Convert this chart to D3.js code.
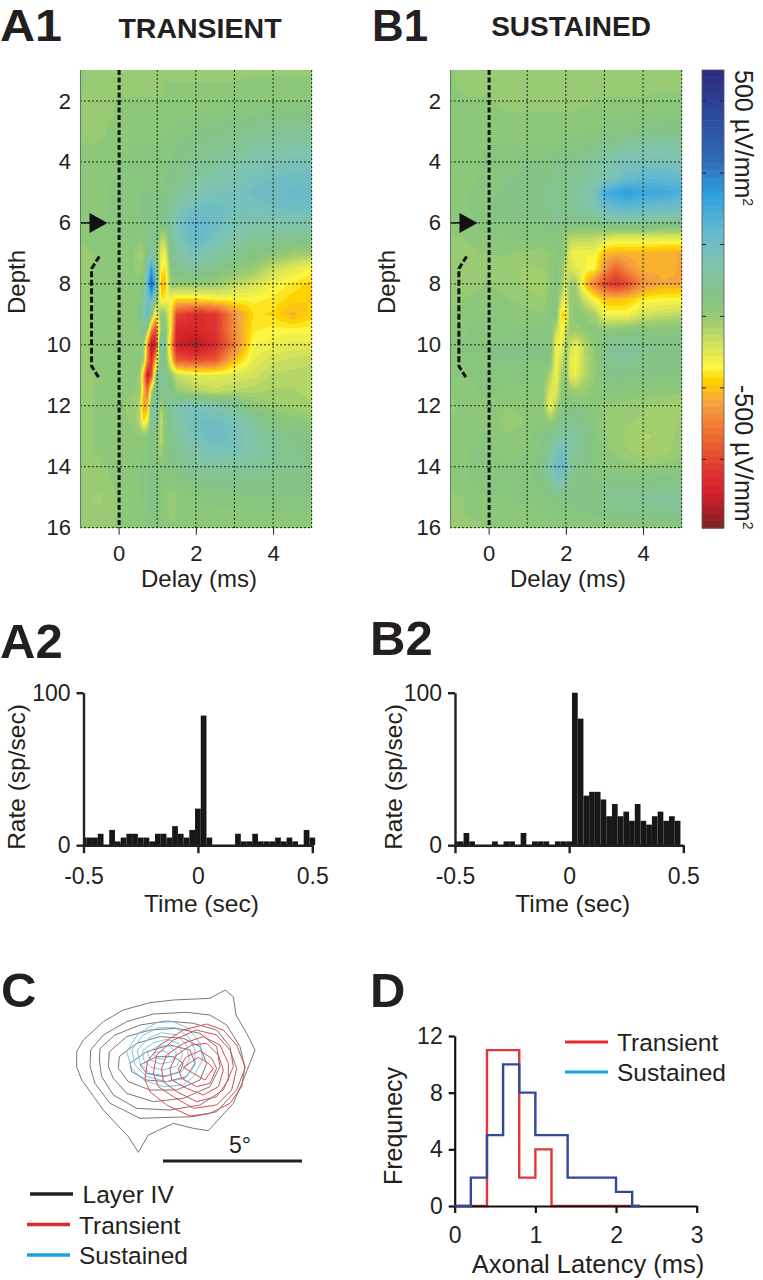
<!DOCTYPE html>
<html><head><meta charset="utf-8">
<script src="https://cdnjs.cloudflare.com/ajax/libs/d3/7.8.5/d3.min.js"></script>
<style>html,body{margin:0;background:#fff}svg{display:block}text{font-family:"Liberation Sans",Arial,sans-serif;fill:#231f20}</style>
</head><body><div id="chart"></div>
<script>
// ---------- data ----------
const depthRows = d3.range(1, 16.5, 0.5);
const delayA = [-1,-.5,0,.4,.55,.65,.75,.85,.95,1.1,1.2,1.35,1.5,2,2.5,3,3.5,4,4.5,5];
const delayB = [-1,-.5,0,.5,1,1.4,1.6,1.75,1.9,2,2.1,2.25,2.5,2.75,3,3.3,3.6,4,4.5,5];
const csdA = [
[-6,-7,-7,-7,-7,-7,-7,-7,-7,-7,-7,-7,-7,-7,-7,-7,-7,-7,-7,-7],
[-6,-7,-7,-7,-7,-7,-7,-7,-7,-7,-6,-6,-6,-6,-6,-6,-5,-5,-5,-5],
[-7,-7,-6,-6,-6,-6,-6,-6,-6,-6,-6,-6,-6,-5,-5,-4,-4,-4,-3,-3],
[-7,-7,-6,-5,-5,-5,-5,-5,-5,-5,-5,-4,-4,-3,-2,-1,0,1,2,2],
[-7,-7,-5,-4,-4,-4,-4,-4,-4,-4,-3,-3,-2,0,2,4,6,7,7,7],
[-6,-6,-4,-3,-3,-3,-3,-3,-3,-3,-2,-1,0,3,5,7,10,12,12,12],
[-6,-5,-3,-2,-2,-2,-2,-2,-2,-2,-1,0,2,6,9,12,15,17,18,18],
[-5,-4,-3,-2,-1,-1,-1,-1,-1,-1,0,2,4,9,13,16,20,22,23,23],
[-5,-4,-2,-1,0,0,0,0,0,0,1,3,7,14,18,19,23,25,26,26],
[-5,-4,-2,-1,0,1,1,1,1,1,3,7,13,22,24,20,20,22,23,23],
[-5,-4,-2,-1,0,0,1,2,3,3,5,10,18,30,25,18,16,15,15,15],
[-6,-5,-3,-3,-4,-3,0,5,6,-14,-14,6,15,28,20,12,8,7,6,5],
[-7,-6,-5,-6,-12,-8,0,10,4,-24,-26,2,10,20,12,5,1,-3,-8,-10],
[-7,-6,-5,-6,-8,-4,18,45,18,-30,-34,-4,4,8,3,-3,-8,-18,-24,-29],
[-7,-6,-5,-5,-4,2,32,68,38,-40,-42,-6,-6,-6,-8,-15,-20,-28,-32,-36],
[-7,-6,-5,-4,0,8,20,30,6,-34,-30,-28,-34,-34,-30,-30,-30,-32,-36,-38],
[-7,-6,-5,-4,2,15,30,0,-32,-4,-8,-28,-70,-78,-76,-50,-34,-35,-42,-36],
[-7,-6,-5,-4,-2,5,-8,-50,-70,-5,0,-30,-80,-82,-76,-50,-32,-30,-30,-30],
[-7,-6,-5,-4,-4,-8,-50,-92,-85,25,0,-40,-85,-92,-80,-55,-28,-26,-24,-24],
[-7,-6,-5,-4,-4,-8,-55,-80,-45,8,2,-30,-65,-68,-65,-40,-25,-20,-18,-16],
[-7,-6,-5,-5,-8,-45,-90,-70,-10,8,4,-5,-18,-24,-24,-22,-20,-15,-14,-14],
[-7,-6,-5,-6,-8,-40,-60,-15,5,5,5,5,-8,-14,-18,-15,-14,-12,-12,-14],
[-7,-6,-5,-8,-15,-48,-40,5,22,-12,0,10,15,18,14,8,-4,-8,-10,-12],
[-7,-6,-5,-7,-15,-35,-25,5,10,-18,-4,6,12,22,24,18,8,0,-4,-6],
[-7,-6,-5,-5,-6,-5,-2,2,2,-15,-3,2,8,20,25,20,12,6,2,0],
[-7,-6,-4,-4,-4,-3,-1,1,1,-12,-2,1,5,14,20,18,12,8,4,2],
[-7,-7,-5,-4,-3,-2,0,1,1,-3,0,1,3,8,10,10,8,6,4,3],
[-8,-8,-5,-4,-3,-2,0,1,1,-2,-3,-3,-2,2,3,3,3,2,2,2],
[-8,-10,-6,-5,-3,-2,0,2,1,-2,-6,-8,-6,-3,-1,-1,0,0,0,0],
[-7,-9,-6,-5,-4,-3,-1,1,0,-2,-5,-7,-6,-5,-4,-4,-3,-3,-3,-3],
[-6,-7,-6,-5,-5,-4,-3,-2,-3,-4,-5,-6,-6,-6,-5,-5,-5,-5,-5,-5]];
const csdB = [
[-6,-7,-7,-8,-8,-8,-8,-8,-8,-8,-8,-8,-8,-8,-8,-8,-8,-8,-8,-8],
[-6,-7,-7,-8,-8,-8,-8,-8,-8,-8,-8,-8,-8,-7,-7,-7,-7,-7,-7,-7],
[-5,-6,-6,-7,-7,-7,-7,-7,-7,-7,-7,-7,-7,-6,-6,-6,-6,-6,-5,-5],
[-5,-6,-5,-6,-6,-6,-6,-6,-6,-6,-6,-6,-5,-5,-4,-4,-3,-2,-2,-1],
[-5,-5,-4,-5,-5,-5,-5,-5,-5,-5,-4,-4,-3,-3,-2,-1,0,2,3,3],
[-5,-5,-3,-3,-3,-3,-2,-2,-2,-2,-1,-1,0,3,5,7,10,12,12,12],
[-5,-4,-2,-1,0,1,2,3,3,3,4,5,8,11,13,17,18,18,18,16],
[-5,-4,-2,0,1,2,3,4,5,5,6,7,8,10,14,18,25,30,30,28],
[-5,-3,-1,1,2,3,4,5,6,6,7,9,13,18,38,42,46,42,40,36],
[-4,-3,0,1,2,3,4,5,5,5,6,8,12,16,24,28,30,28,26,22],
[-5,-4,-1,0,0,1,2,3,3,3,3,3,2,2,6,8,8,8,6,5],
[-7,-6,-4,-3,-3,-2,-2,-2,-4,-10,-14,-16,-16,-16,-20,-24,-24,-24,-24,-24],
[-8,-7,-6,-6,-7,-8,-6,-3,-3,-10,-24,-28,-28,-28,-40,-42,-42,-42,-43,-44],
[-9,-9,-8,-8,-10,-9,-5,-2,-5,-20,-20,-24,-28,-30,-48,-62,-50,-42,-43,-44],
[-8,-7,-6,-8,-10,-12,-6,0,-8,-24,-10,-10,-38,-56,-70,-76,-70,-50,-44,-44],
[-7,-6,-5,-6,-8,-9,-4,0,-20,-26,-7,-6,-20,-30,-38,-40,-38,-32,-30,-30],
[-6,-4,-3,-4,-5,-6,-2,0,-36,-34,-10,-4,-6,-12,-28,-28,-28,-20,-18,-16],
[-5,-3,-2,-2,-3,-3,-1,-16,-30,-20,-8,-8,-5,-4,-5,-5,-3,-2,-2,-1],
[-5,-2,0,0,0,0,0,-28,-26,-8,-18,-26,-14,-5,4,8,8,5,3,2],
[-5,-2,0,0,0,0,-2,-28,-18,-6,-24,-28,-15,-6,3,7,7,3,2,1],
[-5,-3,-1,-1,-2,-2,-14,-28,-10,-4,-22,-26,-14,-6,0,2,2,0,0,0],
[-6,-4,-2,-4,-4,-4,-22,-24,-5,-3,-8,-10,-8,-5,-3,-2,-3,-4,-4,-5],
[-7,-5,-4,-6,-5,-5,-28,-14,-2,0,0,0,-3,-5,-7,-7,-8,-9,-10,-12],
[-6,-5,-4,-8,-6,-3,-8,-2,3,4,5,5,1,-3,-6,-8,-9,-10,-11,-9],
[-6,-4,-3,-6,-4,0,4,8,10,12,12,10,4,-2,-6,-8,-10,-13,-12,-8],
[-5,-3,-2,-5,-3,1,8,18,22,16,12,8,3,-2,-5,-7,-9,-12,-11,-7],
[-4,-3,-1,-3,-1,3,14,26,28,20,12,6,2,-1,-3,-4,-5,-6,-5,-3],
[-5,-3,-1,-3,-1,1,6,14,14,8,5,2,0,0,1,2,2,2,3,3],
[-7,-6,-3,-3,-2,-1,0,1,2,1,1,1,1,3,5,6,6,7,8,8],
[-7,-6,-5,-4,-4,-3,-2,-2,-2,-2,-1,0,0,1,2,3,3,4,5,5],
[-7,-7,-6,-6,-6,-6,-5,-5,-5,-5,-5,-5,-5,-4,-4,-4,-4,-4,-4,-4]];
const colorStops = [100,80,60,45,30,15,0,-5,-10,-20,-30,-36,-45,-60,-75,-85,-100];
const colorHex = ["#2b2a7e","#2d4a9c","#2f6db8","#2fa2de","#62b8d2","#7fc4ae","#85c380","#8ec87a","#9fcd70","#d3e25c","#fdf640","#ffd200","#f6a33e","#ee6b30","#e03430","#d42028","#7b2226"];
const colorbarTicks = [86.5,55,23.8,-7.6,-38.8,-70];
const rateA = [5,5,5,7.5,0,10,2.5,5,7.5,7.5,5,5,2.5,7.5,7.5,5,12.5,7.5,5,10,24,85,5,0,0,0,0,7.5,2.5,2.5,7.5,2.5,2.5,2.5,5,2.5,5,2.5,0,10,5];
const rateB = [2.5,2.5,8,2.5,0,0,0,2.5,0,2.5,2.5,0,8,0,2.5,2.5,2.5,0,2.5,2.5,2.5,100,83,32.5,35,35,30,19,27,19,22,16,27,16,13.5,19,22,16,19,16];
const latencyEdges = [0,.2,.4,.6,.8,1,1.2,1.4,1.6,1.8,2,2.2,2.3];
const freqTransient = [0,0,11,11,2,4,0,0,0,0,0,0,0];
const freqSustained = [0,2,5,10,8,5,5,2,2,2,1,0,0];
// receptive-field contours in map units (1 unit = 1/3 px)
const fieldBlack = [
[[50,215],[70,180],[130,125],[190,90],[270,68],[340,60],[450,55],[495,30],[520,50],[528,105],[560,160],[585,210],[550,300],[520,370],[445,452],[400,445],[340,430],[265,465],[235,517],[205,470],[130,390],[65,300],[50,260],[50,215]],
[[92,210],[130,165],[200,125],[280,102],[380,97],[450,105],[500,135],[540,200],[555,265],[530,330],[470,395],[400,410],[240,415],[150,370],[105,310],[90,260],[92,210]],
[[120,205],[165,165],[240,135],[320,123],[400,130],[470,150],[510,200],[520,260],[490,330],[420,375],[330,390],[230,385],[160,345],[125,290],[118,240],[120,205]],
[[148,215],[200,170],[270,150],[350,145],[420,160],[470,200],[480,260],[450,320],[370,355],[280,365],[200,340],[160,295],[145,260],[148,215]],
[[178,230],[230,190],[300,170],[370,175],[420,200],[440,250],[420,300],[350,330],[270,330],[205,305],[175,265],[178,230]],
[[210,250],[260,215],[330,195],[390,210],[405,250],[380,290],[320,305],[260,300],[215,275],[210,250]],
[[240,255],[290,230],[340,230],[370,250],[360,275],[310,290],[260,280],[240,255]]];
const fieldBlue = [
[[200,215],[235,160],[290,128],[340,125],[385,145],[420,190],[428,240],[400,290],[370,315],[310,320],[250,300],[215,265],[200,215]],
[[215,210],[250,165],[295,143],[345,143],[385,170],[405,210],[405,255],[375,295],[320,305],[260,290],[225,255],[215,210]],
[[232,210],[265,175],[305,158],[350,165],[380,195],[388,240],[365,275],[320,288],[270,280],[240,250],[232,210]],
[[248,212],[280,188],[320,178],[355,190],[368,225],[350,258],[310,270],[272,262],[250,238],[248,212]],
[[262,218],[295,198],[330,198],[350,220],[335,245],[300,252],[272,240],[262,218]],
[[280,220],[310,212],[330,222],[315,238],[290,235],[280,220]]];
const fieldRed = [
[[255,300],[262,245],[300,195],[370,150],[440,132],[490,150],[530,195],[555,260],[545,320],[510,370],[450,400],[390,408],[320,375],[270,335],[255,300]],
[[280,280],[290,225],[340,180],[410,150],[470,165],[510,210],[530,265],[515,330],[470,375],[400,385],[340,350],[295,320],[280,280]],
[[305,265],[320,225],[370,190],[430,170],[480,195],[505,250],[505,300],[470,350],[410,365],[350,335],[310,305],[305,265]],
[[330,265],[350,225],[395,195],[440,190],[475,225],[490,270],[475,320],[430,345],[380,325],[335,300],[330,265]],
[[355,265],[380,230],[420,212],[455,235],[470,265],[450,310],[410,320],[365,295],[355,265]],
[[370,262],[415,232],[445,250],[460,265],[435,300],[400,280],[370,262]]];
const bracketDelayA = [-.5,-.7,-.7,-.5];
const bracketDelayB = [-.57,-.77,-.77,-.57];
const bracketDepth = [7.1,7.5,10.7,11.1];

// ---------- setup ----------
const W = 763, H = 1280, INK = "#231f20";
const svg = d3.select("#chart").append("svg").attr("width", W).attr("height", H).attr("viewBox", `0 0 ${W} ${H}`);
const color = d3.scaleLinear().domain(colorStops).range(colorHex).interpolate(d3.interpolateRgb);
const LEVELS = 64, stepV = 200 / LEVELS;
const band = v => { const k = Math.min(LEVELS - 1, Math.max(0, Math.floor((v + 100) / stepV))); return -100 + (k + .5) * stepV; };

function label(x, y, t, o = {}) {
  const e = svg.append("text").attr("x", x).attr("y", y).text(t)
    .attr("font-size", o.size || 24).attr("text-anchor", o.anchor || "middle");
  if (o.bold) e.attr("font-weight", "bold");
  if (o.rot) e.attr("transform", `rotate(${o.rot} ${x} ${y})`);
  if (o.len) e.attr("textLength", o.len).attr("lengthAdjust", "spacingAndGlyphs");
  return e;
}

function heatmap(left, delays, grid, bracketDelay, titleX) {
  const x = d3.scaleLinear([-1, 5], [left, left + 231.7]);
  const y = d3.scaleLinear([1, 16], [70.5, 527.7]);
  const x0 = left, y0 = 70, w = 232, h = 458;
  const cv = document.createElement("canvas"); cv.width = w; cv.height = h;
  const ctx = cv.getContext("2d"), img = ctx.createImageData(w, h);
  for (let py = 0; py < h; py++) {
    const dp = Math.max(1, Math.min(16, y.invert(y0 + py + .5)));
    const r = Math.min(depthRows.length - 2, d3.bisectRight(depthRows, dp) - 1);
    const fy = (dp - depthRows[r]) / (depthRows[r + 1] - depthRows[r]);
    for (let px = 0; px < w; px++) {
      const dl = Math.max(-1, Math.min(5, x.invert(x0 + px + .5)));
      const c = Math.min(delays.length - 2, d3.bisectRight(delays, dl) - 1);
      const fx = (dl - delays[c]) / (delays[c + 1] - delays[c]);
      const v = (grid[r][c] * (1 - fx) + grid[r][c + 1] * fx) * (1 - fy) + (grid[r + 1][c] * (1 - fx) + grid[r + 1][c + 1] * fx) * fy;
      const col = d3.rgb(color(band(v))), i = (py * w + px) * 4;
      img.data[i] = col.r; img.data[i + 1] = col.g; img.data[i + 2] = col.b; img.data[i + 3] = 255;
    }
  }
  ctx.putImageData(img, 0, 0);
  svg.append("image").attr("href", cv.toDataURL()).attr("x", x0).attr("y", y0).attr("width", w).attr("height", h);
  const gridG = svg.append("g").attr("fill", "none").attr("stroke", "#1a2a1a").attr("stroke-width", 1).attr("stroke-dasharray", "2 2");
  gridG.selectAll(".v").data([1, 2, 3, 4, 5]).join("line").attr("x1", d => x(d)).attr("x2", d => x(d)).attr("y1", y0).attr("y2", y0 + h);
  gridG.selectAll(".h").data([2, 4, 6, 8, 10, 12, 14, 16]).join("line").attr("x1", x0).attr("x2", x0 + w).attr("y1", d => y(d)).attr("y2", d => y(d));
  svg.append("line").attr("x1", x0 + .5).attr("x2", x0 + .5).attr("y1", y0).attr("y2", y0 + h).attr("stroke", "#5d7f5f");
  svg.append("line").attr("x1", x(0) + .5).attr("x2", x(0) + .5).attr("y1", y0).attr("y2", y0 + h).attr("stroke", "#111").attr("stroke-width", 3).attr("stroke-dasharray", "5 2.5");
  // bracket
  svg.append("path").attr("d", d3.line().x(d => x(d[0])).y(d => y(d[1]))(bracketDelay.map((d, i) => [d, bracketDepth[i]])))
    .attr("fill", "none").attr("stroke", "#111").attr("stroke-width", 3).attr("stroke-dasharray", "6 2.5");
  // arrow at depth 6
  const ay = y(6), ax = x(-1);
  svg.append("line").attr("x1", ax + 1).attr("x2", ax + 11).attr("y1", ay).attr("y2", ay).attr("stroke", "#111").attr("stroke-width", 1.5);
  svg.append("path").attr("d", d3.line()([[ax + 9.5, ay - 10], [ax + 27.5, ay], [ax + 9.5, ay + 10]]) + "Z").attr("fill", "#111");
  // axes
  const yAx = d3.axisLeft(y).tickValues(d3.range(2, 17, 2)).tickSize(0).tickPadding(9);
  const gy = svg.append("g").attr("transform", `translate(${left},0)`).call(yAx);
  gy.select(".domain").remove();
  gy.selectAll("text").attr("font-size", 22).style("fill", INK);
  const xAx = d3.axisBottom(x).tickValues([0, 2, 4]).tickSize(7).tickPadding(11).tickFormat(d3.format("d"));
  const gx = svg.append("g").attr("transform", "translate(0,527.7)").call(xAx);
  gx.select(".domain").remove();
  gx.selectAll("line").attr("stroke", INK);
  gx.selectAll("text").attr("font-size", 22).style("fill", INK);
  label(titleX, 587, "Delay (ms)");
  label(left - 55, 282, "Depth", { rot: -90 });
}

function histogram(axisX, endX, rate, titleLeft) {
  const x = d3.scaleLinear([-.5, .5], [axisX, endX]);
  const y = d3.scaleLinear([0, 100], [845.2, 692.7]);
  svg.append("g").attr("fill", "#171717").selectAll("rect").data(rate).join("rect")
    .attr("x", (d, i) => x(Math.max(-.5, -.5 + .025 * i - .0125)))
    .attr("width", (d, i) => x(-.5 + .025 * i + .0125) - x(Math.max(-.5, -.5 + .025 * i - .0125)))
    .attr("y", d => y(d)).attr("height", d => y(0) - y(d));
  const gx = svg.append("g").attr("transform", `translate(0,${y(0)})`)
    .call(d3.axisBottom(x).tickValues([-.5, 0, .5]).tickSize(8).tickPadding(14).tickSizeOuter(0).tickFormat(d => d === 0 ? "0" : String(d)));
  const gy = svg.append("g").attr("transform", `translate(${axisX},0)`)
    .call(d3.axisLeft(y).tickValues([0, 100]).tickSize(7).tickPadding(6).tickSizeOuter(0));
  [gx, gy].forEach(g => {
    g.selectAll(".domain,line").attr("stroke", INK).attr("stroke-width", 2.4);
    g.selectAll("text").attr("font-size", 23).style("fill", INK);
  });
  label(titleLeft, 777, "Rate (sp/sec)", { rot: -90, size: 24.5 });
  label((axisX + endX) / 2 + 3.5, 912, "Time (sec)", { size: 24.5 });
}

// ---------- panel letters and titles ----------
label(0, 41, "A1", { size: 45, bold: true, anchor: "start", len: 62 });
label(372, 41, "B1", { size: 45, bold: true, anchor: "start", len: 56 });
label(200, 38, "TRANSIENT", { size: 28.5, bold: true });
label(571, 36, "SUSTAINED", { size: 28, bold: true });
label(0, 658, "A2", { size: 49, bold: true, anchor: "start" });
label(370, 655, "B2", { size: 49, bold: true, anchor: "start" });
label(1, 1007, "C", { size: 49, bold: true, anchor: "start" });
label(370, 1007, "D", { size: 49, bold: true, anchor: "start" });

// ---------- A1 / B1 ----------
heatmap(80, delayA, csdA, bracketDelayA, 199);
heatmap(450, delayB, csdB, bracketDelayB, 568);

// ---------- colour bar ----------
const cbY = d3.scaleLinear([100, -100], [70, 528]);
const cbG = svg.append("g");
cbG.selectAll("rect").data(d3.range(LEVELS)).join("rect")
  .attr("x", 702).attr("width", 22)
  .attr("y", k => cbY(100 - k * stepV)).attr("height", cbY(0) - cbY(stepV) + .6)
  .attr("fill", k => color(100 - (k + .5) * stepV));
svg.append("rect").attr("x", 702).attr("y", 70).attr("width", 22).attr("height", 458).attr("fill", "none").attr("stroke", "#555").attr("stroke-width", .8);
const cbTicks = svg.append("g").attr("stroke", "#222");
colorbarTicks.forEach(v => {
  cbTicks.append("line").attr("x1", 702).attr("x2", 706).attr("y1", cbY(v)).attr("y2", cbY(v));
  cbTicks.append("line").attr("x1", 720).attr("x2", 724).attr("y1", cbY(v)).attr("y2", cbY(v));
});
function cbLabel(y, t) {
  const e = label(735, y, t, { rot: 90, anchor: "start", size: 25 });
  e.append("tspan").attr("dy", -8).attr("font-size", 14).text("2");
}
cbLabel(70, "500 µV/mm");
cbLabel(385, "-500 µV/mm");

// ---------- A2 / B2 ----------
histogram(83.5, 312.3, rateA, 25);
histogram(455, 683.3, rateB, 402);

// ---------- C ----------
const mapX = d3.scaleLinear([0, 660], [60, 280]), mapY = d3.scaleLinear([0, 570], [980, 1170]);
const mapLine = d3.line().x(d => mapX(d[0])).y(d => mapY(d[1]));
function drawField(set, stroke, sw) {
  svg.append("g").attr("fill", "none").attr("stroke", stroke).attr("stroke-width", sw).selectAll("path").data(set).join("path").attr("d", mapLine);
}
drawField(fieldBlack, "#555", .8);
drawField(fieldBlue, "#6cbcea", .9);
drawField(fieldRed, "#dd4a50", 1);
svg.append("line").attr("x1", 163).attr("x2", 302).attr("y1", 1161).attr("y2", 1161).attr("stroke", INK).attr("stroke-width", 3);
label(229, 1153, "5°", { size: 23, anchor: "start" });
[["Layer IV", "#231f20", 1194, 30, 82.5, 1203], ["Transient", "#e0282d", 1224.5, 27, 79, 1234], ["Sustained", "#1ca0e6", 1255, 27, 79, 1264]].forEach(([t, c, y, lx, tx, by]) => {
  svg.append("line").attr("x1", lx).attr("x2", lx + 43).attr("y1", y).attr("y2", y).attr("stroke", c).attr("stroke-width", 3.4);
  label(tx, by, t, { anchor: "start", size: 24.5 });
});

// ---------- D ----------
const dx = d3.scaleLinear([0, 3], [454.7, 696.7]), dy = d3.scaleLinear([0, 12], [1206, 1036]);
const step = d3.line().curve(d3.curveStepAfter).x((d, i) => dx(latencyEdges[i])).y(d => dy(d));
svg.append("path").attr("d", step(freqTransient)).attr("fill", "none").attr("stroke", "#e0373c").attr("stroke-width", 2.4);
const gDx = svg.append("g").attr("transform", `translate(0,${dy(0)})`).call(d3.axisBottom(dx).tickValues([0, 1, 2, 3]).tickSize(7).tickPadding(14).tickSizeOuter(0).tickFormat(d3.format("d")));
const gDy = svg.append("g").attr("transform", `translate(${dx(0)},0)`).call(d3.axisLeft(dy).tickValues([0, 4, 8, 12]).tickSize(6).tickPadding(6).tickSizeOuter(0));
[gDx, gDy].forEach(g => {
  g.selectAll(".domain,line").attr("stroke", "#111").attr("stroke-width", 2.2);
  g.selectAll("text").attr("font-size", 23).style("fill", INK);
});
svg.append("path").attr("d", step(freqSustained)).attr("fill", "none").attr("stroke", "#2f4a9c").attr("stroke-width", 2.4);
label(402, 1126, "Frequnecy", { rot: -90, size: 25 });
label(588, 1273, "Axonal Latency (ms)", { size: 25.5 });
[["Transient", "#e8282d", 1042], ["Sustained", "#1ca0e6", 1072]].forEach(([t, c, y]) => {
  svg.append("line").attr("x1", 565).attr("x2", 608).attr("y1", y).attr("y2", y).attr("stroke", c).attr("stroke-width", 3.2);
  label(617, y + 9, t, { anchor: "start", size: 24.5 });
});
</script></body></html>
